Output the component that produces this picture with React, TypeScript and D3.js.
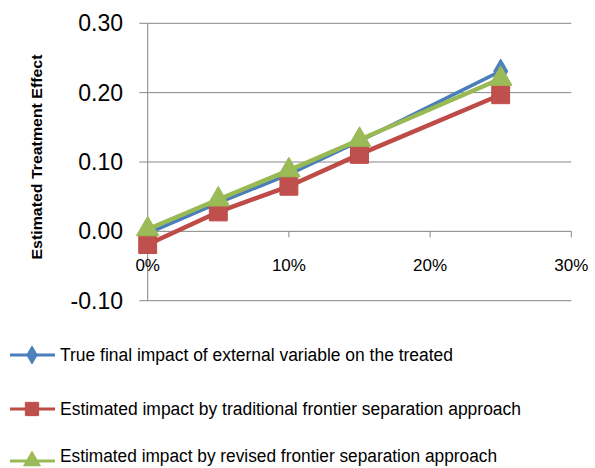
import React from "react";
import * as d3 from "d3";

const xValues = [0, 0.05, 0.1, 0.15, 0.25];
const trueImpact = [-0.003, 0.041, 0.082, 0.13, 0.231];
const traditional = [-0.019, 0.028, 0.065, 0.111, 0.197];
const revised = [0.003, 0.046, 0.088, 0.132, 0.22];
const yTicks = [-0.1, 0, 0.1, 0.2, 0.3];
const xTicks = [0, 0.1, 0.2, 0.3];
const seriesNames = [
  "True final impact of external variable on the treated",
  "Estimated impact by traditional frontier separation approach",
  "Estimated impact by revised frontier separation approach",
];
const yTitle = "Estimated Treatment Effect";

const colors = ["#4A7EBB", "#BE4B48", "#98B954"];
const fillColors = ["#4F81BD", "#C0504D", "#9BBB59"];
const shapes = [d3.symbolDiamond, d3.symbolSquare, d3.symbolTriangle];
const symSizes = [170, 320, 220];
const lineWidths = [3.5, 4.5, 4.5];
const legendWidths = [393, 461, 437];

export default function App() {
  const x = d3.scaleLinear().domain([0, 0.3]).range([147.7, 571.3]);
  const y = d3.scaleLinear().domain([-0.1, 0.3]).range([300.7, 23.3]);
  const series = [trueImpact, traditional, revised];
  const line = d3
    .line<number>()
    .x((_, i) => x(xValues[i]))
    .y((d) => y(d));
  const font = "'Liberation Sans', Arial, sans-serif";
  const grid = "#868686";
  const legendY = [355, 409, 461];
  const legendTextY = [355, 409, 456];
  const fmtY = (t: number) => d3.format(".2f")(t).replace("\u2212", "-");

  return (
    <svg
      width={595}
      height={468}
      style={{ position: "absolute", left: 0, top: 0, background: "#fff" }}
      fontFamily={font}
    >
      <rect width={595} height={468} fill="#fff" />
      {yTicks.map((t) => (
        <line
          key={"g" + t}
          x1={139.3}
          x2={t === 0 ? 147.7 : x(0.3)}
          y1={y(t)}
          y2={y(t)}
          stroke={grid}
          strokeWidth={1}
        />
      ))}
      <line x1={x(0)} x2={x(0)} y1={y(0.3)} y2={y(-0.1)} stroke={grid} strokeWidth={1} />
      <line x1={x(0)} x2={x(0.3)} y1={y(0)} y2={y(0)} stroke={grid} strokeWidth={1} />
      {xTicks.map((t) => (
        <line key={"xt" + t} x1={x(t)} x2={x(t)} y1={y(0)} y2={y(0) + 6} stroke={grid} strokeWidth={1} />
      ))}
      {yTicks.map((t) => (
        <text
          key={"yl" + t}
          x={123}
          y={y(t)}
          textAnchor="end"
          dominantBaseline="central"
          fontSize={23}
          fill="#000"
        >
          {fmtY(t)}
        </text>
      ))}
      {xTicks.map((t) => (
        <text
          key={"xl" + t}
          x={x(t)}
          y={265}
          textAnchor="middle"
          dominantBaseline="central"
          fontSize={17}
          fill="#000"
        >
          {d3.format(".0%")(t)}
        </text>
      ))}
      <text
        transform={`translate(37,157) rotate(-90)`}
        textAnchor="middle"
        dominantBaseline="central"
        fontSize={14}
        fontWeight="bold"
        textLength={205}
        lengthAdjust="spacingAndGlyphs"
      >
        {yTitle}
      </text>
      {series.map((s, i) => (
        <path
          key={"l" + i}
          d={line(s) || ""}
          fill="none"
          stroke={colors[i]}
          strokeWidth={lineWidths[i]}
          strokeLinejoin="round"
        />
      ))}
      {series.map((s, i) =>
        s.map((v, j) => (
          <path
            key={"m" + i + "-" + j}
            d={d3.symbol().type(shapes[i]).size(symSizes[i])() || ""}
            transform={`translate(${x(xValues[j])},${y(v)})`}
            fill={fillColors[i]}
            stroke={colors[i]}
            strokeWidth={1}
          />
        ))
      )}
      {seriesNames.map((name, i) => (
        <g key={"lg" + i}>
          <line x1={10} x2={55} y1={legendY[i]} y2={legendY[i]} stroke={colors[i]} strokeWidth={3} />
          <path
            d={d3.symbol().type(shapes[i]).size(symSizes[i] * 0.55)() || ""}
            transform={`translate(32,${legendY[i]})`}
            fill={fillColors[i]}
            stroke={colors[i]}
          />
          <text
            x={60}
            y={legendTextY[i]}
            dominantBaseline="central"
            fontSize={18}
            textLength={legendWidths[i]}
            lengthAdjust="spacingAndGlyphs"
            fill="#000"
          >
            {name}
          </text>
        </g>
      ))}
    </svg>
  );
}
